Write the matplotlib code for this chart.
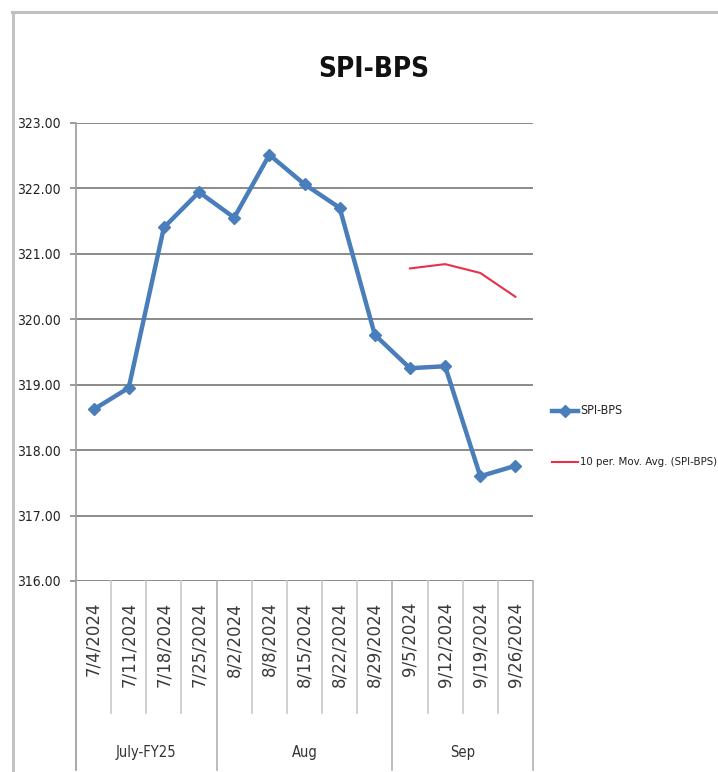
import numpy as np
import pandas as pd
import matplotlib
matplotlib.use("Agg")
import matplotlib.pyplot as plt
from matplotlib import font_manager as fm
from matplotlib.lines import Line2D
from matplotlib.transforms import blended_transform_factory

# ---- data ----
dates = ["7/4/2024", "7/11/2024", "7/18/2024", "7/25/2024",
         "8/2/2024", "8/8/2024", "8/15/2024", "8/22/2024", "8/29/2024",
         "9/5/2024", "9/12/2024", "9/19/2024", "9/26/2024"]
values = [318.62, 318.95, 321.40, 321.94,
          321.55, 322.51, 322.06, 321.70, 319.76,
          319.25, 319.28, 317.60, 317.76]
groups = ["July-FY25", "Aug", "Sep"]
group_sizes = [4, 5, 4]
y_ticks = [316, 317, 318, 319, 320, 321, 322, 323]
title = "SPI-BPS"
series_name = "SPI-BPS"
ma_period = 10
ma_name = "10 per. Mov. Avg. (SPI-BPS)"

# moving average trendline (as the spreadsheet computes it)
ma = pd.Series(values).rolling(ma_period).mean().to_numpy()

# ---- fonts: prefer a condensed face ----
fonts = fm.fontManager.ttflist
cond = [f for f in fonts if "Narrow" in f.name or "Condensed" in f.name
        or (str(f.stretch) in ("condensed", "semi-condensed", "extra-condensed")
            or (isinstance(f.stretch, int) and f.stretch < 500))]
if any(f.name == "DejaVu Sans" for f in cond):
    narrow_kw = dict(family="DejaVu Sans", stretch="condensed")
elif cond:
    narrow_kw = dict(family=cond[0].name)
else:
    narrow_kw = dict(family="Liberation Sans")

W, H = 718, 772
fig = plt.figure(figsize=(W / 100, H / 100), dpi=100)
fig.patch.set_facecolor("white")

# outer chart border
border_c = "#C0C0C0"
fig.add_artist(Line2D([12 / W, 1.0], [1 - 12 / H, 1 - 12 / H], color=border_c, lw=2.2))
fig.add_artist(Line2D([13 / W, 13 / W], [0, 1 - 12 / H], color=border_c, lw=2.0))

left, right = 76 / W, 533 / W
bottom, top = 1 - 581 / H, 1 - 122.7 / H
ax = fig.add_axes([left, bottom, right - left, top - bottom])

x = np.arange(len(values))
grid_c = "#8A8A8A"
ax.set_ylim(y_ticks[0], y_ticks[-1])
ax.set_xlim(-0.5, len(values) - 0.5)
for yv in y_ticks:
    ax.axhline(yv, color=grid_c, lw=1.4, zorder=1)

blue = "#4A7EBB"
red = "#E8304A"
ax.plot(x, values, color=blue, lw=3.2, marker="D", markersize=6.5,
        markeredgecolor=blue, zorder=3, label=series_name)
ax.plot(x, ma, color=red, lw=1.5, zorder=3, label=ma_name)

for s in ["top", "right", "bottom", "left"]:
    ax.spines[s].set_visible(False)

ax.set_yticks(y_ticks)
ax.set_yticklabels([f"{v:.2f}" for v in y_ticks], fontsize=10, color="#222222", **narrow_kw)
ax.tick_params(axis="y", length=4, color=grid_c, width=1.2, pad=7)
ax.set_xticks([])

# category axis (multi-level)
trans = blended_transform_factory(ax.transData, ax.transAxes)
axh = 581 - 122.7
def ay(py):
    return -(py - 581) / axh

y_date_bot = ay(713)
y_grp_bot = ay(770)
ax.plot([-0.5, -0.5], [1, y_grp_bot], transform=trans, color="#A0A0A0", lw=1.3,
        clip_on=False, zorder=2)

boundaries = [0]
for n in group_sizes:
    boundaries.append(boundaries[-1] + n)
for i in range(1, len(values) + 1):
    xb = i - 0.5
    if i in boundaries:
        ax.plot([xb, xb], [0, y_grp_bot], transform=trans, color="#B0B0B0", lw=1.2, clip_on=False)
    else:
        ax.plot([xb, xb], [0, y_date_bot], transform=trans, color="#C8C8C8", lw=1.2, clip_on=False)

for i, d in enumerate(dates):
    ax.text(i, ay(602), d, transform=trans, rotation=90, ha="center", va="top",
            fontsize=12, family="DejaVu Sans", color="#3A3A3A")

for g, (a, b) in zip(groups, zip(boundaries[:-1], boundaries[1:])):
    ax.text((a + b - 1) / 2, ay(752), g, transform=trans, ha="center", va="center",
            fontsize=10.5, color="#333333", **narrow_kw)

# title
fig.text(374 / W, 1 - 69 / H, title, ha="center", va="center", fontsize=20,
         fontweight="bold", color="#111111", **narrow_kw)

# legend
fig.add_artist(Line2D([552 / W, 578 / W], [1 - 411 / H] * 2, color=blue, lw=3.2))
fig.add_artist(Line2D([565 / W], [1 - 411 / H], color=blue, marker="D", markersize=6.5, lw=0))
fig.text(580 / W, 1 - 411 / H, series_name, ha="left", va="center", fontsize=9,
         color="#222222", **narrow_kw)
fig.add_artist(Line2D([552 / W, 578 / W], [1 - 462 / H] * 2, color=red, lw=1.5))
fig.text(580 / W, 1 - 462 / H, ma_name, ha="left", va="center", fontsize=8.2,
         color="#222222", **narrow_kw)

fig.savefig("out.png", dpi=100, facecolor="white")
